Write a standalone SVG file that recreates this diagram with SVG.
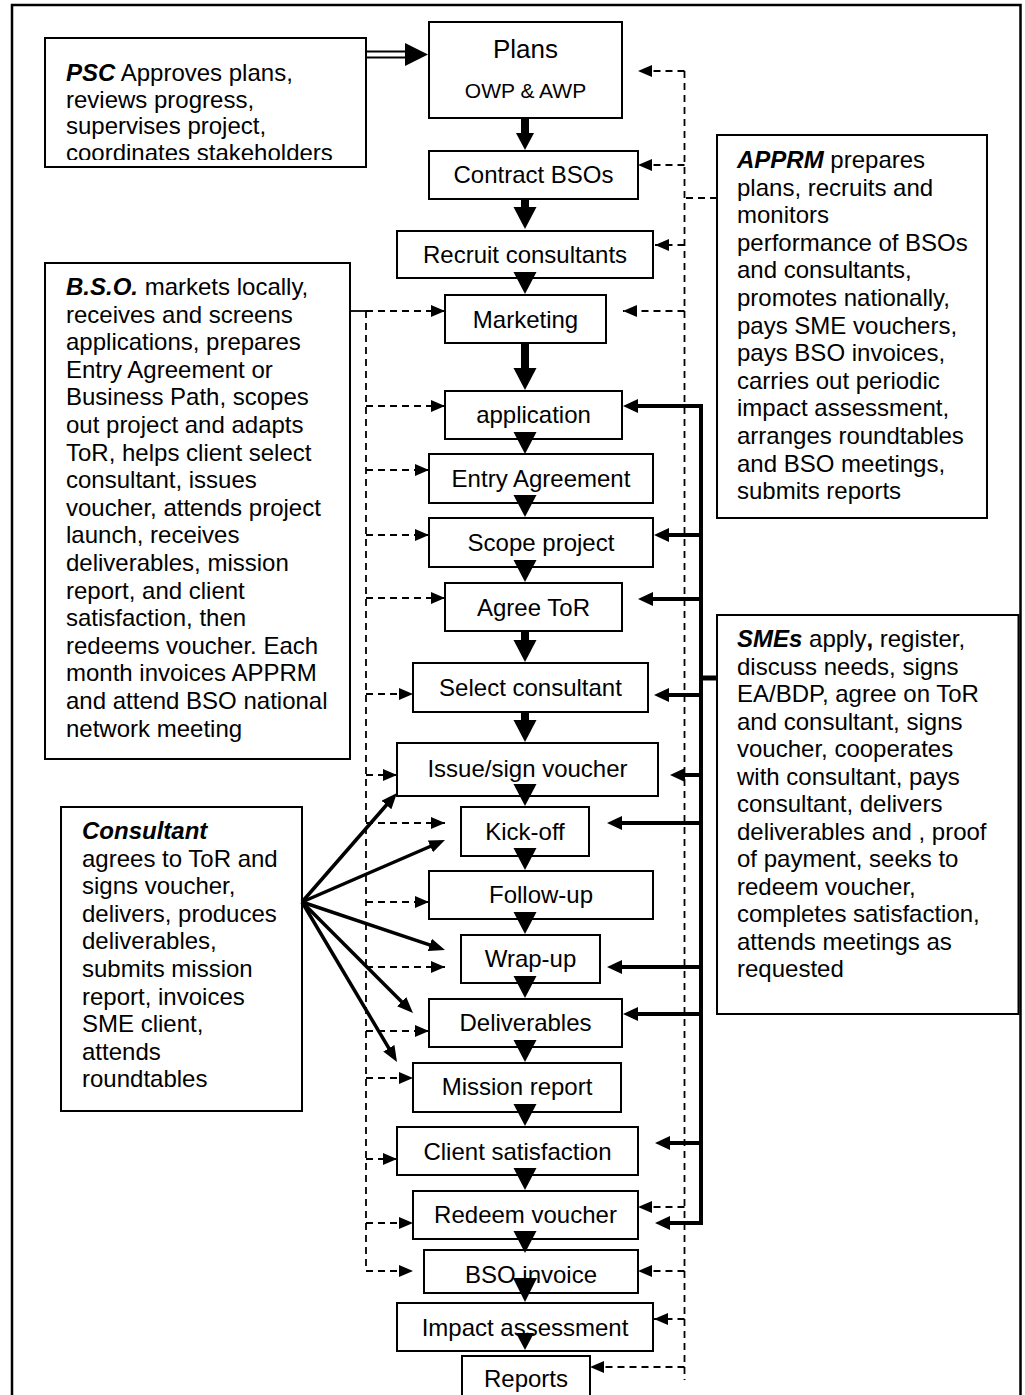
<svg xmlns="http://www.w3.org/2000/svg" width="1025" height="1395" viewBox="0 0 1025 1395">
<style>
.box{fill:#fff;stroke:#000;stroke-width:2}
.lbl{font-family:"Liberation Sans",Arial,sans-serif;font-size:24px;text-anchor:middle;fill:#000}
.desc{font-family:"Liberation Sans",Arial,sans-serif;font-size:24px;fill:#000}
.bi{font-weight:bold;font-style:italic}
.b{font-weight:bold}
.dash{fill:none;stroke:#000;stroke-width:1.8;stroke-dasharray:7 5}
.dashn{fill:none;stroke:#000;stroke-width:1.8;stroke-dasharray:7 5;marker-end:url(#ad)}
.thick{fill:none;stroke:#000;stroke-width:4}
.thicka{fill:none;stroke:#000;stroke-width:4;marker-end:url(#at)}
.cons{fill:none;stroke:#000;stroke-width:3.5;marker-end:url(#ac)}
.shaft{stroke:#000;stroke-width:8}
</style>
<defs>
<marker id="ad" viewBox="0 0 14 12" markerWidth="14" markerHeight="12" refX="14" refY="6" orient="auto" markerUnits="userSpaceOnUse"><path d="M0,0 L14,6 L0,12 Z" fill="#000"/></marker>
<marker id="at" viewBox="0 0 15 14" markerWidth="15" markerHeight="14" refX="5" refY="7" orient="auto" markerUnits="userSpaceOnUse"><path d="M0,0 L15,7 L0,14 Z" fill="#000"/></marker>
<marker id="ac" viewBox="0 0 16 13" markerWidth="16" markerHeight="13" refX="6" refY="6.5" orient="auto" markerUnits="userSpaceOnUse"><path d="M0,0 L16,6.5 L0,13 Z" fill="#000"/></marker>
<path id="hd" d="M-11.5,-22 L11.5,-22 L0,0 Z" fill="#000"/>
<path id="hs" d="M-9,-17 L9,-17 L0,0 Z" fill="#000"/>
<clipPath id="pscclip"><rect x="45" y="38" width="321" height="122"/></clipPath>
</defs>
<rect x="0" y="0" width="1025" height="1395" fill="#fff"/>
<rect id="frame" x="12" y="5" width="1008.5" height="1400" fill="none" stroke="#000" stroke-width="2.5"/>

<g id="psc">
<rect class="box" x="45" y="38" width="321" height="129"/>
<text class="desc" x="66" y="81" clip-path="url(#pscclip)"><tspan class="bi">PSC</tspan> Approves plans,<tspan x="66" y="107.5">reviews progress,</tspan><tspan x="66" y="134">supervises project,</tspan><tspan x="66" y="161">coordinates stakeholders</tspan></text>
</g>

<g id="apprm">
<rect class="box" x="717" y="135" width="270" height="383"/>
<text class="desc" x="737" y="168"><tspan class="bi">APPRM</tspan> prepares<tspan x="737" dy="27.6">plans, recruits and</tspan><tspan x="737" dy="27.6">monitors</tspan><tspan x="737" dy="27.6">performance of BSOs</tspan><tspan x="737" dy="27.6">and consultants,</tspan><tspan x="737" dy="27.6">promotes nationally,</tspan><tspan x="737" dy="27.6">pays SME vouchers,</tspan><tspan x="737" dy="27.6">pays BSO invoices,</tspan><tspan x="737" dy="27.6">carries out periodic</tspan><tspan x="737" dy="27.6">impact assessment,</tspan><tspan x="737" dy="27.6">arranges roundtables</tspan><tspan x="737" dy="27.6">and BSO meetings,</tspan><tspan x="737" dy="27.6">submits reports</tspan></text>
</g>

<g id="bso">
<rect class="box" x="45" y="263" width="305" height="496"/>
<text class="desc" x="66" y="295"><tspan class="bi">B.S.O.</tspan> markets locally,<tspan x="66" dy="27.6">receives and screens</tspan><tspan x="66" dy="27.6">applications, prepares</tspan><tspan x="66" dy="27.6">Entry Agreement or</tspan><tspan x="66" dy="27.6">Business Path, scopes</tspan><tspan x="66" dy="27.6">out project and adapts</tspan><tspan x="66" dy="27.6">ToR, helps client select</tspan><tspan x="66" dy="27.6">consultant, issues</tspan><tspan x="66" dy="27.6">voucher, attends project</tspan><tspan x="66" dy="27.6">launch, receives</tspan><tspan x="66" dy="27.6">deliverables, mission</tspan><tspan x="66" dy="27.6">report, and client</tspan><tspan x="66" dy="27.6">satisfaction, then</tspan><tspan x="66" dy="27.6">redeems voucher. Each</tspan><tspan x="66" dy="27.6">month invoices APPRM</tspan><tspan x="66" dy="27.6">and attend BSO national</tspan><tspan x="66" dy="27.6">network meeting</tspan></text>
</g>

<g id="smes">
<rect class="box" x="717" y="615" width="301.5" height="399"/>
<text class="desc" x="737" y="647"><tspan class="bi">SMEs</tspan> apply<tspan class="b">,</tspan> register,<tspan x="737" dy="27.5">discuss needs, signs</tspan><tspan x="737" dy="27.5">EA/BDP, agree on ToR</tspan><tspan x="737" dy="27.5">and consultant, signs</tspan><tspan x="737" dy="27.5">voucher, cooperates</tspan><tspan x="737" dy="27.5">with consultant, pays</tspan><tspan x="737" dy="27.5">consultant, delivers</tspan><tspan x="737" dy="27.5">deliverables and , proof</tspan><tspan x="737" dy="27.5">of payment, seeks to</tspan><tspan x="737" dy="27.5">redeem voucher,</tspan><tspan x="737" dy="27.5">completes satisfaction,</tspan><tspan x="737" dy="27.5">attends meetings as</tspan><tspan x="737" dy="27.5">requested</tspan></text>
</g>

<g id="consultant">
<rect class="box" x="61" y="807" width="241" height="304"/>
<text class="desc" x="82" y="839"><tspan class="bi">Consultant</tspan><tspan x="82" dy="27.6">agrees to ToR and</tspan><tspan x="82" dy="27.6">signs voucher,</tspan><tspan x="82" dy="27.6">delivers, produces</tspan><tspan x="82" dy="27.6">deliverables,</tspan><tspan x="82" dy="27.6">submits mission</tspan><tspan x="82" dy="27.6">report, invoices</tspan><tspan x="82" dy="27.6">SME client,</tspan><tspan x="82" dy="27.6">attends</tspan><tspan x="82" dy="27.6">roundtables</tspan></text>
</g>

<g id="plans"><rect class="box" x="429" y="22" width="193" height="96"/><text class="lbl" x="525.5" y="58" style="font-size:26px">Plans</text><text class="lbl" x="525.5" y="98" style="font-size:21px">OWP &amp; AWP</text></g>
<g id="contract"><rect class="box" x="429" y="151" width="209" height="48"/><text class="lbl" x="533.5" y="183">Contract BSOs</text></g>
<g id="recruit"><rect class="box" x="397" y="231" width="256" height="47"/><text class="lbl" x="525" y="263">Recruit consultants</text></g>
<g id="marketing"><rect class="box" x="445" y="295" width="161" height="48"/><text class="lbl" x="525.5" y="328">Marketing</text></g>
<g id="application"><rect class="box" x="445" y="391" width="177" height="48"/><text class="lbl" x="533.5" y="423">application</text></g>
<g id="entry"><rect class="box" x="429" y="454" width="224" height="49"/><text class="lbl" x="541" y="487">Entry Agreement</text></g>
<g id="scope"><rect class="box" x="429" y="518" width="224" height="49"/><text class="lbl" x="541" y="551">Scope project</text></g>
<g id="agree"><rect class="box" x="445" y="583" width="177" height="48"/><text class="lbl" x="533.5" y="616">Agree ToR</text></g>
<g id="select"><rect class="box" x="413" y="663" width="235" height="49"/><text class="lbl" x="530.5" y="696">Select consultant</text></g>
<g id="issue"><rect class="box" x="397" y="743" width="261" height="53"/><text class="lbl" x="527.5" y="777">Issue/sign voucher</text></g>
<g id="kickoff"><rect class="box" x="461" y="807" width="128" height="49"/><text class="lbl" x="525" y="840">Kick-off</text></g>
<g id="followup"><rect class="box" x="429" y="871" width="224" height="48"/><text class="lbl" x="541" y="903">Follow-up</text></g>
<g id="wrapup"><rect class="box" x="461" y="935" width="139" height="48"/><text class="lbl" x="530.5" y="967">Wrap-up</text></g>
<g id="deliverables"><rect class="box" x="429" y="999" width="193" height="48"/><text class="lbl" x="525.5" y="1031">Deliverables</text></g>
<g id="mission"><rect class="box" x="413" y="1063" width="208" height="49"/><text class="lbl" x="517" y="1095">Mission report</text></g>
<g id="client"><rect class="box" x="397" y="1127" width="241" height="48"/><text class="lbl" x="517.5" y="1160">Client satisfaction</text></g>
<g id="redeem"><rect class="box" x="413" y="1191" width="225" height="48"/><text class="lbl" x="525.5" y="1223">Redeem voucher</text></g>
<g id="bsoinvoice"><rect class="box" x="424" y="1250" width="214" height="43"/><text class="lbl" x="531" y="1283">BSO invoice</text></g>
<g id="impact"><rect class="box" x="397" y="1303" width="256" height="48"/><text class="lbl" x="525" y="1336">Impact assessment</text></g>
<g id="reports"><rect class="box" x="462" y="1356" width="128" height="50"/><text class="lbl" x="526" y="1387">Reports</text></g>

<g id="connectors">
<line x1="366" y1="51.5" x2="406" y2="51.5" stroke="#000" stroke-width="2"/>
<line x1="366" y1="57.5" x2="406" y2="57.5" stroke="#000" stroke-width="2"/>
<path d="M405,43 L428,54.5 L405,66 Z" fill="#000"/>

<line class="shaft" x1="525" y1="118" x2="525" y2="135"/>
<use href="#hs" x="525" y="150"/>
<line class="shaft" x1="525" y1="199" x2="525" y2="209"/>
<use href="#hd" x="525" y="229"/>
<use href="#hd" x="525" y="294"/>
<line class="shaft" x1="525" y1="343" x2="525" y2="370"/>
<use href="#hd" x="525" y="390"/>
<use href="#hd" x="525" y="454"/>
<use href="#hd" x="525" y="517"/>
<use href="#hd" x="525" y="582"/>
<line class="shaft" x1="525" y1="631" x2="525" y2="643"/>
<use href="#hd" x="525" y="662"/>
<line class="shaft" x1="525" y1="712" x2="525" y2="723"/>
<use href="#hd" x="525" y="742"/>
<use href="#hd" x="525" y="806"/>
<use href="#hd" x="525" y="870"/>
<use href="#hd" x="525" y="934"/>
<use href="#hd" x="525" y="998"/>
<use href="#hd" x="525" y="1062"/>
<use href="#hd" x="525" y="1126"/>
<use href="#hd" x="525" y="1190"/>
<use href="#hd" x="525" y="1253"/>
<path d="M513,1278 L537,1278 L525,1302 Z" fill="#000"/>
<use href="#hs" x="525" y="1350"/>

<path class="dash" d="M717,198 H684.5 M684.5,71 V1380"/>
<path class="dashn" d="M684.5,71 H638"/>
<path class="dashn" d="M684.5,165 H638"/>
<path class="dashn" d="M684.5,245 H655"/>
<path class="dashn" d="M684.5,311 H623"/>
<path class="dashn" d="M684.5,1207 H638"/>
<path class="dashn" d="M684.5,1271 H638"/>
<path class="dashn" d="M684.5,1319 H654"/>
<path class="dashn" d="M684.5,1367 H590"/>

<line x1="350" y1="311" x2="366" y2="311" stroke="#000" stroke-width="1.8"/>
<path class="dash" d="M366,311 V1271"/>
<path class="dashn" d="M366,311 H445"/>
<path class="dashn" d="M366,406 H445"/>
<path class="dashn" d="M366,470 H429"/>
<path class="dashn" d="M366,535 H429"/>
<path class="dashn" d="M366,598 H445"/>
<path class="dashn" d="M366,694 H413"/>
<path class="dashn" d="M366,775 H397"/>
<path class="dashn" d="M366,823 H445"/>
<path class="dashn" d="M366,902 H429"/>
<path class="dashn" d="M366,967 H445"/>
<path class="dashn" d="M366,1031 H429"/>
<path class="dashn" d="M366,1078 H413"/>
<path class="dashn" d="M366,1159 H397"/>
<path class="dashn" d="M366,1223 H413"/>
<path class="dashn" d="M366,1271 H413"/>

<line x1="701" y1="678" x2="717" y2="678" stroke="#000" stroke-width="5"/>
<path class="thick" d="M701,404 V1225"/>
<path class="thicka" d="M701,406 H633"/>
<path class="thicka" d="M701,535 H664"/>
<path class="thicka" d="M701,599 H648"/>
<path class="thicka" d="M701,695 H664"/>
<path class="thicka" d="M701,775 H680"/>
<path class="thicka" d="M701,823 H617"/>
<path class="thicka" d="M701,967 H617"/>
<path class="thicka" d="M701,1014 H633"/>
<path class="thicka" d="M701,1143 H665"/>
<path class="thicka" d="M701,1223 H665"/>

<path class="cons" d="M302,902 L390.4,800.5"/>
<path class="cons" d="M302,902 L435.8,844"/>
<path class="cons" d="M302,902 L435.5,946.8"/>
<path class="cons" d="M302,902 L405.9,1005.9"/>
<path class="cons" d="M302,902 L391.9,1053.4"/>
</g>
</svg>
